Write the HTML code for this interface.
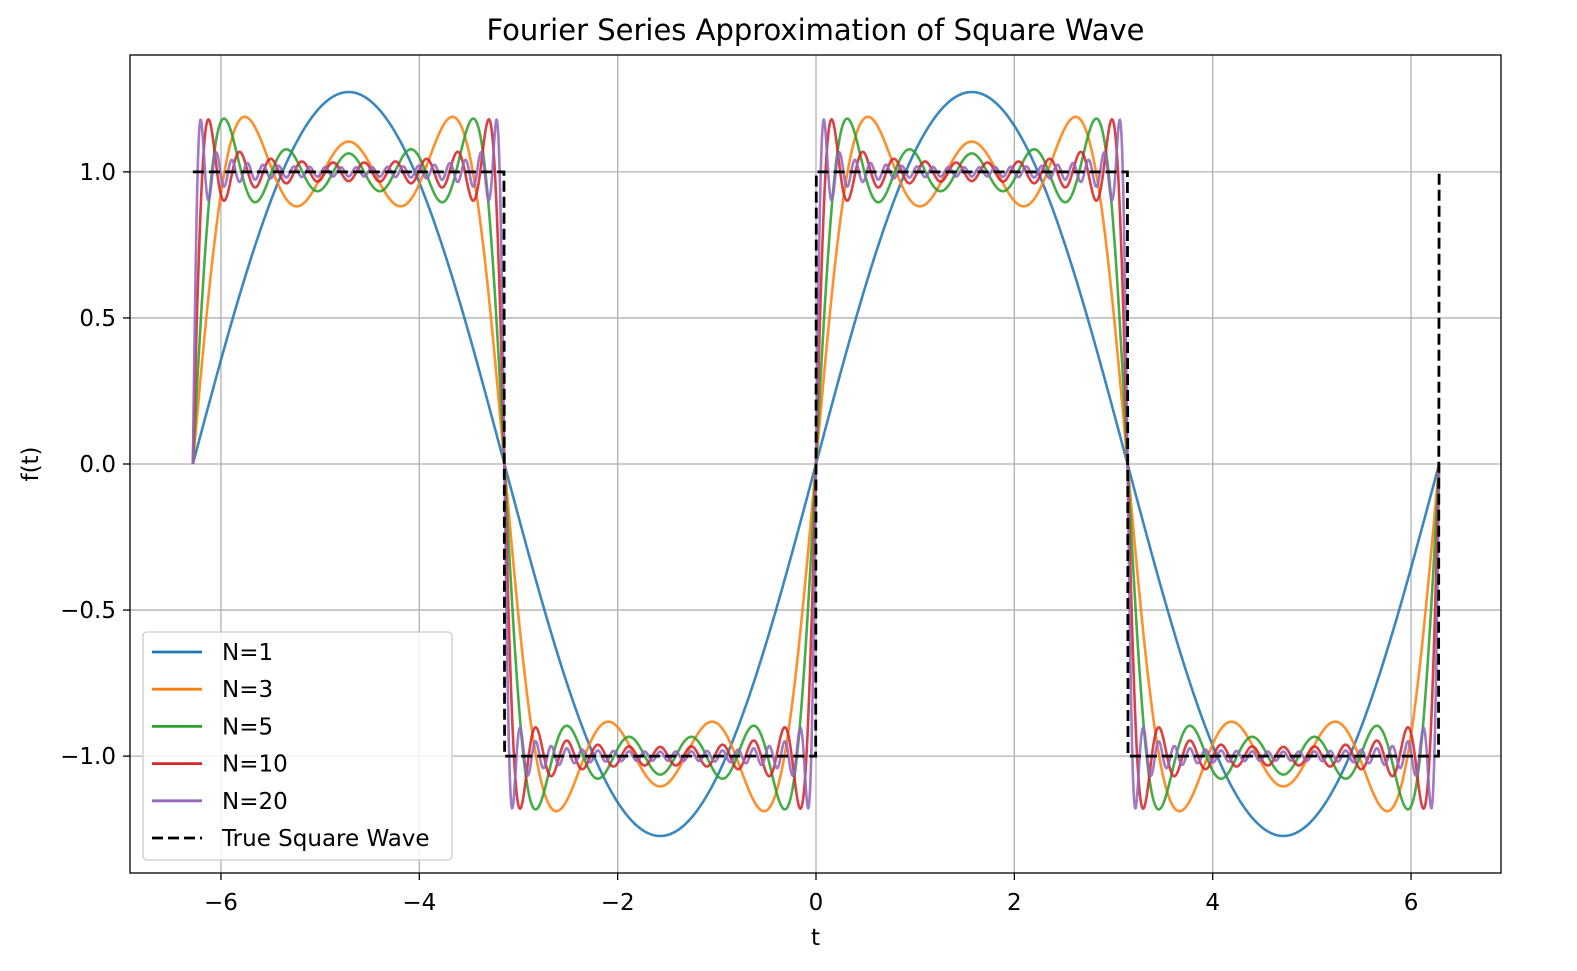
<!DOCTYPE html>
<html><head><meta charset="utf-8"><style>
html,body{margin:0;padding:0;background:#fff;overflow:hidden;width:1577px;height:971px;}
svg{display:block;font-family:"DejaVu Sans","Liberation Sans",sans-serif;}
</style></head><body>
<svg id="chart" width="1577" height="971" viewBox="0 0 1577 971"></svg>
<script>
const harmonicCounts=[1,3,5,10,20];
const seriesLabels=["N=1","N=3","N=5","N=10","N=20"];
const seriesColors=["#1f77b4","#ff7f0e","#2ca02c","#d62728","#9467bd"];
const xTicks=[-6,-4,-2,0,2,4,6];
const xTickLabels=["\u22126","\u22124","\u22122","0","2","4","6"];
const yTicks=[-1,-0.5,0,0.5,1];
const yTickLabels=["\u22121.0","\u22120.5","0.0","0.5","1.0"];
const tStart=-2*Math.PI, tEnd=2*Math.PI, nSamples=2000;

const L=130,R=1501,T=55,B=873;
const xMin=-6.917,xMax=6.907,yMin=-1.4,yMax=1.4;
const sx=v=>L+(v-xMin)/(xMax-xMin)*(R-L);
const sy=v=>B-(v-yMin)/(yMax-yMin)*(B-T);
const svg=document.getElementById('chart');
const NS='http://www.w3.org/2000/svg';
function mk(tag,attrs,parent){const e=document.createElementNS(NS,tag);for(const k in attrs)e.setAttribute(k,attrs[k]);(parent||svg).appendChild(e);return e;}

const grid=mk('g',{});


xTicks.forEach((v,i)=>{
  const g=mk('line',{x1:sx(v),x2:sx(v),y1:T,y2:B,stroke:'#b0b0b0','stroke-width':1.3},grid);
  
  
  const tk=mk('line',{x1:sx(v),x2:sx(v),y1:B,y2:B+7,stroke:'#000','stroke-width':1.3});
  
  
  const tx=mk('text',{x:sx(v),y:B+37,'text-anchor':'middle','font-size':23});
  tx.textContent=xTickLabels[i];
  
  
});
yTicks.forEach((v,i)=>{
  const g=mk('line',{x1:L,x2:R,y1:sy(v),y2:sy(v),stroke:'#b0b0b0','stroke-width':1.3},grid);
  
  
  const tk=mk('line',{x1:L-7,x2:L,y1:sy(v),y2:sy(v),stroke:'#000','stroke-width':1.3});
  
  
  const tx=mk('text',{x:L-14,y:sy(v)+8,'text-anchor':'end','font-size':23});
  tx.textContent=yTickLabels[i];
  
  
});

const clip=mk('clipPath',{id:'pc'});mk('rect',{x:L,y:T,width:R-L,height:B-T},clip);
const plot=mk('g',{'clip-path':'url(#pc)'});


const ts=[];for(let i=0;i<nSamples;i++)ts.push(tStart+(tEnd-tStart)*i/(nSamples-1));
harmonicCounts.forEach((N,si)=>{
  let d='';
  ts.forEach((t,i)=>{let s=0;for(let k=1;k<=N;k++){const n=2*k-1;s+=Math.sin(n*t)/n;}s*=4/Math.PI;
    if(i===ts.length-1)s=0;
    d+=(i?'L':'M')+sx(t).toFixed(2)+' '+sy(s).toFixed(2);});
  const p=mk('path',{d:d,fill:'none',stroke:seriesColors[si],'stroke-width':2.6,'stroke-opacity':0.88,'stroke-linejoin':'round'},plot);
  
  
});
{
  let d='';
  ts.forEach((t,i)=>{let v=Math.sin(t)>=0?1:-1;if(i===0||i===ts.length-1)v=1;
    d+=(i?'L':'M')+sx(t).toFixed(2)+' '+sy(v).toFixed(2);});
  const p=mk('path',{d:d,fill:'none',stroke:'#000','stroke-width':2.8,'stroke-dasharray':'11,5'},plot);
  
  
}
const frame=mk('rect',{x:L,y:T,width:R-L,height:B-T,fill:'none',stroke:'#000','stroke-width':1.3});



const title=mk('text',{x:(L+R)/2,y:40,'text-anchor':'middle','font-size':29});
title.textContent='Fourier Series Approximation of Square Wave';


const xl=mk('text',{x:(L+R)/2,y:945,'text-anchor':'middle','font-size':23});
xl.textContent='t';


const yl=mk('text',{x:38,y:(T+B)/2,'text-anchor':'middle','font-size':23,transform:'rotate(-90 38 '+((T+B)/2)+')'});
yl.textContent='f(t)';



const lg=mk('g',{});


mk('rect',{x:143,y:632,width:309,height:228,rx:4,fill:'#fff','fill-opacity':0.85,stroke:'#ccc','stroke-width':1.3},lg);
const legLabels=seriesLabels.concat(['True Square Wave']);
const legColors=seriesColors.concat(['#000']);
legLabels.forEach((lab,i)=>{
  const y=652+i*37.2;
  const e=mk('g',{},lg);
  
  
  const ln=mk('line',{x1:152,x2:202,y1:y,y2:y,stroke:legColors[i],'stroke-width':2.8},e);
  if(i===5)ln.setAttribute('stroke-dasharray','11,5');
  const tx=mk('text',{x:222,y:y+8,'font-size':23},e);
  tx.textContent=lab;
});
</script>
</body></html>
